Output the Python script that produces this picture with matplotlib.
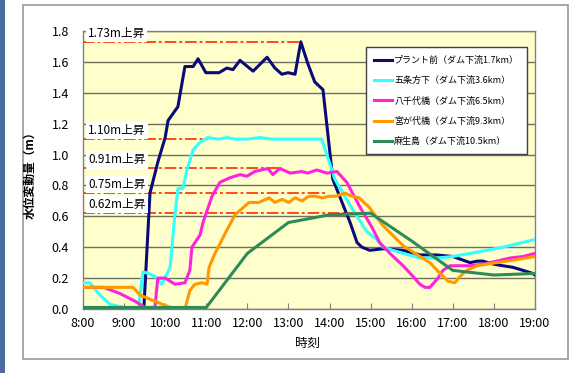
import matplotlib
matplotlib.use('Agg')
import matplotlib.pyplot as plt
from matplotlib.patches import Rectangle

plt.rcParams['font.family'] = ['Noto Sans CJK JP', 'DejaVu Sans']

# 時刻 (時, 小数) と水位変動量 (m)
plant_t = [8.0, 9.45, 9.48, 9.63, 9.82, 10.0, 10.07, 10.31, 10.48, 10.68, 10.80, 10.99,
           11.31, 11.50, 11.65, 11.82, 12.14, 12.48, 12.67, 12.84, 12.99, 13.16, 13.30,
           13.47, 13.64, 13.84, 14.08, 14.50, 14.67, 14.79, 14.98, 15.30, 15.79, 16.20,
           16.60, 17.00, 17.42, 17.60, 17.73, 18.00, 18.22, 18.46, 18.71, 18.95, 19.0]
plant_v = [0.0, 0.0, 0.0, 0.75, 0.95, 1.11, 1.22, 1.31, 1.57, 1.57, 1.62, 1.53,
           1.53, 1.56, 1.55, 1.61, 1.54, 1.63, 1.56, 1.52, 1.53, 1.52, 1.73,
           1.59, 1.47, 1.42, 0.84, 0.56, 0.43, 0.40, 0.38, 0.39, 0.38, 0.35,
           0.35, 0.34, 0.30, 0.31, 0.31, 0.29, 0.28, 0.27, 0.25, 0.23, 0.22]

gojo_t = [8.0, 8.17, 8.41, 8.66, 9.0, 9.35, 9.46, 9.60, 9.75, 9.92, 10.12, 10.24, 10.31,
          10.43, 10.53, 10.68, 10.85, 11.04, 11.30, 11.50, 11.70, 12.00, 12.30, 12.60,
          13.00, 13.50, 13.81, 14.13, 14.57, 14.91, 15.15, 15.30, 15.79, 16.20, 16.60,
          17.00, 17.42, 18.22, 19.0]
gojo_v = [0.17, 0.17, 0.09, 0.03, 0.01, 0.01, 0.24, 0.23, 0.21, 0.16, 0.27, 0.62, 0.78,
          0.78, 0.90, 1.03, 1.08, 1.11, 1.10, 1.11, 1.10, 1.10, 1.11, 1.10,
          1.10, 1.10, 1.10, 0.84, 0.64, 0.50, 0.45, 0.40, 0.36, 0.33, 0.33,
          0.34, 0.36, 0.40, 0.45]

yachiyo_t = [8.0, 8.5, 8.9, 9.27, 9.51, 9.75, 9.82, 10.0, 10.24, 10.48, 10.60, 10.65,
             10.85, 10.92, 11.14, 11.33, 11.58, 11.82, 11.99, 12.18, 12.50, 12.62, 12.79,
             13.04, 13.33, 13.47, 13.69, 13.94, 14.18, 14.42, 14.74, 15.03, 15.22, 15.47,
             15.79, 16.0, 16.2, 16.32, 16.44, 16.61, 16.76, 16.93, 17.42, 17.73, 18.07,
             18.39, 18.71, 19.0]
yachiyo_v = [0.14, 0.14, 0.10, 0.05, 0.01, 0.01, 0.20, 0.20, 0.16, 0.17, 0.25, 0.40,
             0.48, 0.56, 0.73, 0.82, 0.85, 0.87, 0.86, 0.89, 0.91, 0.87, 0.91,
             0.88, 0.89, 0.88, 0.90, 0.88, 0.89, 0.82, 0.66, 0.53, 0.43, 0.36,
             0.28, 0.22, 0.16, 0.14, 0.14, 0.19, 0.25, 0.28, 0.28, 0.29, 0.31,
             0.33, 0.34, 0.36]

miya_t = [8.0, 9.22, 9.39, 9.75, 10.12, 10.48, 10.60, 10.72, 10.90, 11.02, 11.07, 11.21,
          11.31, 11.46, 11.70, 11.87, 12.04, 12.28, 12.53, 12.67, 12.84, 13.01, 13.16,
          13.33, 13.50, 13.65, 13.82, 13.99, 14.14, 14.38, 14.55, 14.72, 14.96, 15.30,
          15.79, 16.20, 16.44, 16.69, 16.88, 17.05, 17.17, 17.34, 17.58, 18.07, 18.56, 19.0]
miya_v = [0.14, 0.14, 0.09, 0.05, 0.01, 0.0, 0.12, 0.16, 0.17, 0.16, 0.27, 0.36,
          0.41, 0.49, 0.61, 0.65, 0.69, 0.69, 0.72, 0.69, 0.71, 0.69, 0.72,
          0.70, 0.73, 0.73, 0.72, 0.73, 0.73, 0.75, 0.73, 0.72, 0.66, 0.54,
          0.41, 0.34, 0.30, 0.23, 0.18, 0.17, 0.21, 0.25, 0.28, 0.30, 0.32, 0.34]

aso_t = [8.0, 11.0, 12.0, 13.0, 14.0, 15.0, 16.0, 17.0, 18.0, 19.0]
aso_v = [0.01, 0.01, 0.36, 0.56, 0.61, 0.62, 0.44, 0.25, 0.22, 0.23]

series_labels = ['プラント前（ダム下流1.7km）', '五条方下（ダム下流3.6km）',
                 '八千代橋（ダム下流6.5km）', '宮が代橋（ダム下流9.3km）',
                 '麻生島（ダム下流10.5km）']
series_colors = ['#0a0a78', '#33ffff', '#ff22dd', '#ff9900', '#2e8b57']

# 上昇量の注記
rise_values = [1.73, 1.10, 0.91, 0.75, 0.62]
rise_end = [13.30, 11.05, 12.85, 13.97, 15.03]
rise_text = ['1.73m上昇', '1.10m上昇', '0.91m上昇', '0.75m上昇', '0.62m上昇']

hours = list(range(8, 20))
hour_labels = [f'{h}:00' for h in hours]
y_ticks = [0.0, 0.2, 0.4, 0.6, 0.8, 1.0, 1.2, 1.4, 1.6, 1.8]

fig = plt.figure(figsize=(5.82, 3.73), dpi=100)
fig.patches.append(Rectangle((0, 0), 5 / 582, 1, transform=fig.transFigure,
                             facecolor='#4a6c9c', edgecolor='none', zorder=-10))
fig.patches.append(Rectangle((23 / 582, 14 / 373), 545 / 582, 354 / 373,
                             transform=fig.transFigure, facecolor='white',
                             edgecolor='#a0a0a0', linewidth=1.3, zorder=-10))

ax = fig.add_axes([83 / 582, 64 / 373, 452 / 582, 278 / 373])
ax.set_zorder(2)
ax.set_facecolor('#ffffcc')
ax.set_xlim(8, 19)
ax.set_ylim(0, 1.8)
ax.set_yticks(y_ticks)
ax.set_yticklabels([f'{v:.1f}' for v in y_ticks], fontsize=9)
ax.set_xticks(hours)
ax.set_xticklabels(hour_labels, fontsize=9)
ax.tick_params(axis='y', length=0, pad=10)
ax.tick_params(axis='x', direction='in', length=4, color='#808080', pad=6)
ax.grid(axis='y', color='#707060', linewidth=1)
ax.set_axisbelow(True)
for s in ax.spines.values():
    s.set_color('#808080')
    s.set_linewidth(1)

for v, e, txt in zip(rise_values, rise_end, rise_text):
    ax.plot([8, e], [v, v], color='#ff4a1a', linewidth=1.4,
            linestyle=(0, (6, 1.5, 1.5, 1.5)), zorder=3)
    ax.text(8.12, v + 0.055, txt, fontsize=8.5, ha='left', va='center', zorder=6,
            clip_on=False,
            bbox=dict(facecolor='white', edgecolor='none', pad=1.5))

all_t = [plant_t, gojo_t, yachiyo_t, miya_t, aso_t]
all_v = [plant_v, gojo_v, yachiyo_v, miya_v, aso_v]
for t, v, lab, c in zip(all_t, all_v, series_labels, series_colors):
    ax.plot(t, v, color=c, linewidth=2.2, label=lab, zorder=4)

leg = ax.legend(loc='upper right', bbox_to_anchor=(0.993, 0.957), fontsize=6.5,
                handlelength=2.0, handletextpad=0.2, labelspacing=1.25,
                fancybox=False, framealpha=1, edgecolor='#404040',
                borderpad=0.9)
leg.get_frame().set_linewidth(1)
leg.set_zorder(7)

fig.text(30 / 582, 1 - 172 / 373, '水位変動量（m）', rotation=90, fontsize=8.5,
         ha='center', va='center', fontweight='bold')
fig.text(308 / 582, 1 - 343 / 373, '時刻', fontsize=9, ha='center', va='center')

fig.savefig('out.png', dpi=100)
